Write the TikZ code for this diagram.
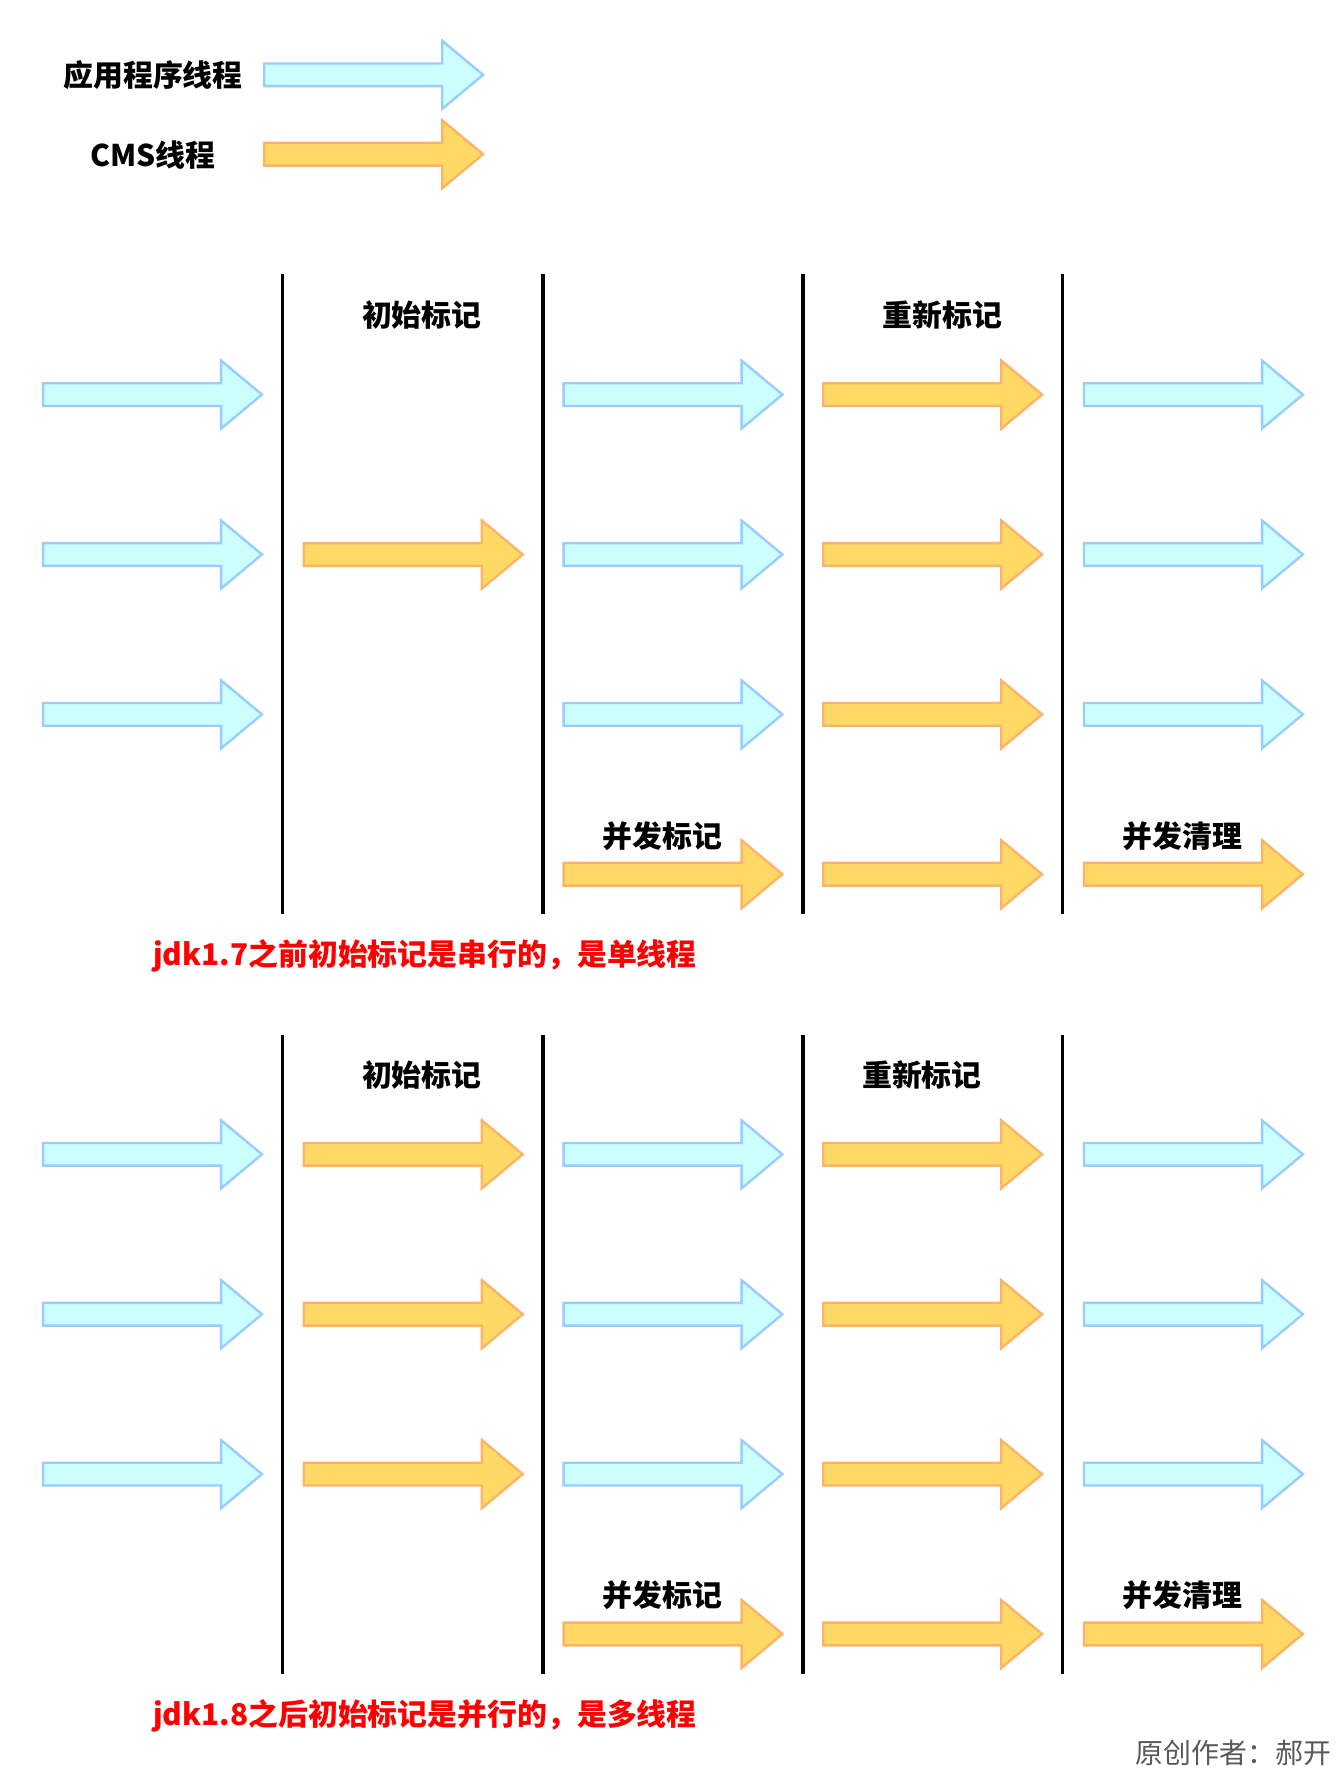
\documentclass[tikz,border=0pt]{standalone}
\usepackage{fontspec}
\setmainfont{Noto Sans CJK SC}
\definecolor{bfill}{HTML}{CCFFFF}\definecolor{bline}{HTML}{99CCFF}
\definecolor{ofill}{HTML}{FFD966}\definecolor{oline}{HTML}{FFB366}
\tikzset{
 app/.style={fill=bfill,draw=bline,line width=1.8pt,line join=miter},
 cms/.style={fill=ofill,draw=oline,line width=1.8pt,line join=miter},
 lbl/.style={font=\fontsize{22.5}{26}\selectfont\bfseries},
 red/.style={font=\fontsize{22.5}{26}\selectfont\bfseries,text=red,anchor=west},
 sep/.style={line width=2.6pt,black}
}
\newcommand\myarr[3]{\path[#1,shift={(#2,#3)}] (0,-10) -- (157,-10) -- (157,-30) -- (193,0) -- (157,30) -- (157,10) -- (0,10) -- cycle;}
\begin{document}
\begin{tikzpicture}[x=0.03cm,y=-0.03cm]
\useasboundingbox[fill=white] (0,0) rectangle (1183,1568);
% legend
\node[lbl] (l1) at (135,66) {应用程序线程};
\node[lbl] (l2) at (135,137) {CMS线程};
\myarr{app}{233}{66}
\myarr{cms}{233}{136}
% separators
\foreach \x in {249,479,708,937}{
 \draw[sep] (\x,242) -- (\x,806);
 \draw[sep] (\x,913) -- (\x,1476);}
% top section
\foreach \y in {348,489,630}{
 \myarr{app}{38}{\y}\myarr{app}{497}{\y}\myarr{cms}{726}{\y}\myarr{app}{956}{\y}}
\myarr{cms}{268}{489}
\foreach \x in {497,726,956}{\myarr{cms}{\x}{771}}
% bottom section
\foreach \y in {1018,1159,1300}{
 \myarr{app}{38}{\y}\myarr{cms}{268}{\y}\myarr{app}{497}{\y}\myarr{cms}{726}{\y}\myarr{app}{956}{\y}}
\foreach \x in {497,726,956}{\myarr{cms}{\x}{1441}}
% labels
\node[lbl] (a1) at (372,278) {初始标记};
\node[lbl] (a2) at (831,278) {重新标记};
\node[lbl] (a3) at (584,737) {并发标记};
\node[lbl] (a4) at (1043,737) {并发清理};
\node[lbl] (b1) at (372,948) {初始标记};
\node[lbl] (b2) at (813,948) {重新标记};
\node[lbl] (b3) at (584,1407) {并发标记};
\node[lbl] (b4) at (1043,1407) {并发清理};
\node[red] (r1) at (131,843) {jdk1.7之前初始标记是串行的，是单线程};
\node[red] (r2) at (131,1513) {jdk1.8之后初始标记是并行的，是多线程};
\node[font=\fontsize{21}{24}\selectfont,text=black!65,anchor=east] (au) at (1178,1546) {原创作者：郝开};
\end{tikzpicture}
\end{document}
